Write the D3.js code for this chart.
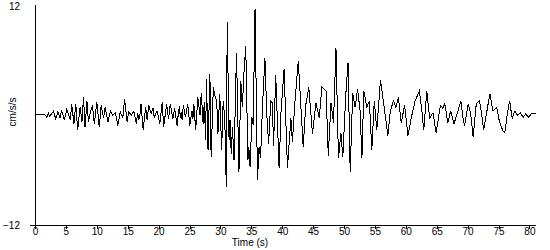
<!DOCTYPE html>
<html>
<head>
<meta charset="utf-8">
<script src="https://cdn.jsdelivr.net/npm/d3@7"></script>
<style>
    body { margin: 0; background: #fff; }
    text { font-family: Arial, 'Liberation Sans', sans-serif; font-size: 10px; fill: #000; }
    .axis path, .axis line { stroke: #000; shape-rendering: crispEdges; }
</style>
</head>
<body>
<svg width="550" height="250"></svg>
<script>
// turning points of the record (time in s, accel in cm/s/s)
var times = [
    0, 1.6, 1.9, 2.16, 2.4, 3.0, 3.35, 3.7, 4.05, 4.3, 4.75, 5.15, 5.7, 5.95, 6.3, 6.6, 6.9, 7.3, 7.6, 7.85,
    8.1, 8.4, 8.65, 8.9, 9.3, 9.6, 10.0, 10.4, 10.7, 11.1, 11.35, 11.8, 12.2, 12.55, 13.0, 13.4, 13.8, 14.2, 14.5, 14.9,
    15.15, 15.6, 16.0, 16.2, 16.4, 16.6, 16.8, 17.0, 17.15, 17.5, 17.9, 18.15, 18.4, 18.8, 19.1, 19.3, 19.5, 19.75, 20.2, 20.6,
    20.8, 21.3, 21.6, 21.9, 22.3, 22.6, 23.0, 23.2, 23.4, 23.5, 23.65, 23.8, 24.0, 24.35, 24.7, 25.05, 25.4, 25.55, 25.7, 26.0,
    26.35, 26.7, 26.9, 27.2, 27.4, 27.6, 27.75, 28.0,
    28.3, 28.5, 28.85, 29.1, 29.4, 29.6, 29.9, 30.2, 30.45, 30.7, 30.95, 31.1, 31.4, 31.55, 31.75, 31.95, 32.2, 32.4, 32.6, 33.0,
    33.3, 33.55, 33.8, 34.1, 34.45, 34.6, 34.8, 35.1, 35.3, 35.6, 36.0, 36.25, 36.5, 36.8, 37.2, 37.5, 37.8, 38.15, 38.4, 38.6,
    38.95, 39.5, 39.8, 40.3, 40.85, 41.4, 41.65, 42.05, 42.6, 43.4, 43.8, 44.3, 44.9, 45.45, 46.0, 46.4, 47.1, 47.45, 47.9, 48.3,
    48.7, 49.1, 49.5, 49.8, 50.3, 50.65, 51.0, 51.4, 51.8, 52.2, 52.6, 52.9, 53.2, 53.7, 54.1, 54.5, 54.9, 55.3, 55.9, 56.5,
    57.1, 57.5, 58.0, 58.4, 58.8, 59.25, 59.8, 60.35, 60.9, 61.5, 62.2, 62.6, 62.9, 63.4, 63.85, 64.4, 64.9, 65.6, 66.0, 66.3,
    66.8, 67.25, 67.8, 68.45, 68.9, 69.3, 69.5, 70.1, 70.5, 70.9, 71.4, 71.9, 72.2, 72.6, 73.05, 73.6, 74.1, 74.7, 75.1, 75.65,
    76.0, 76.5, 76.8, 77.2, 77.65, 78.1, 78.5, 79.0, 79.4, 79.8, 80.35, 81.0
];
var accel = [
    0.1, 0.1, -0.2, 0.25, -0.1, 0.5, -0.4, 0.4, -0.3, 0.6, -0.5, 0.7, -0.5, 1.2, -0.9, 1.3, -1.6, 0.9, -0.7, 2.0,
    -1.3, 1.6, -0.7, 0.2, 1.1, -0.9, 1.5, -1.3, 1.1, -0.3, 0.9, -0.7, 0.5, 0.0, 0.3, -1.1, 0.4, -0.3, 1.8, -0.7,
    0.4, 0.0, 0.5, -0.2, -0.9, 0.3, -0.5, 0.2, 1.3, -1.6, 0.9, -0.5, 1.1, 0.2, 0.8, -0.3, 0.2, 0.5, -0.9, 1.5,
    -1.3, 1.2, -0.4, 1.3, -0.4, 0.8, -1.1, 0.3, 1.0, -0.3, 0.4, -0.5, 1.1, -0.2, 1.3, -1.1, 0.5, -0.4, 1.3, -1.6,
    2.0, 0.0, 2.5, -0.9, 1.5, -2.7, 4.0, -3.8,
    4.6, -4.6, 3.1, 2.2, 1.6, -2.0, 2.4, -3.8, 1.6, -0.2, -7.8, 10.2, -2.7, -0.5, -4.2, -1.3, -4.9, 0.9, 6.9, -6.2,
    3.8, 0.9, 4.6, 7.6, -4.9, -3.5, -5.6, -0.2, -1.0, 11.7, -7.1, -3.5, -4.6, 0.9, 6.3, 0.2, -3.1, 1.6, 1.4, -3.3,
    4.4, -5.8, 0.3, 5.1, -5.8, -0.3, -2.9, 1.4, 6.0, -3.5, 1.1, 3.1, -2.0, 1.4, -0.3, 3.1, 2.7, -4.4, 1.4, -0.8,
    7.4, -4.7, -1.9, -4.6, 2.4, 5.8, -6.2, 2.5, 0.9, 2.9, 0.5, -4.7, 2.7, 0.9, 1.6, -3.8, 1.6, -1.6, 3.9, 0.9,
    -2.2, 0.5, 1.6, 0.9, 2.0, -0.8, 1.1, -2.2, -0.2, 1.6, 2.7, 0.5, -1.6, 2.7, -0.3, 0.3, -1.9, 1.1, 0.8, 1.3,
    -0.8, 0.5, -0.9, 0.5, 1.6, -0.5, -1.1, 1.3, 0.2, -2.4, 1.3, 1.6, 0.5, -1.6, 0.2, 2.4, 0.5, 0.9, -0.5, -1.6,
    -1.9, 0.5, 1.6, -0.3, 0.5, 0.0, 0.3, -0.2, 0.2, -0.2, 0.2, 0.2
];
var xTicks = [0, 5, 10, 15, 20, 25, 30, 35, 40, 45, 50, 55, 60, 65, 70, 75, 80];
var yTicks = [-12, 12];

var svg = d3.select('svg');

var xScale = d3.scaleLinear().domain([0, 81]).range([35, 535.6]);
var yScale = d3.scaleLinear().domain([-12, 12]).range([225, 6]);

// axes
svg.append('g')
    .attr('class', 'axis')
    .attr('transform', 'translate(0,225)')
    .call(d3.axisBottom(xScale).tickValues(xTicks).tickSize(4).tickSizeOuter(0).tickPadding(-1))
    .call(function(g) { g.select('.domain').attr('d', 'M30,0.5H536'); })
    .selectAll('text').style('font-size', '10px').style('font-family', 'Arial, Liberation Sans, sans-serif');

svg.append('g')
    .attr('class', 'axis')
    .attr('transform', 'translate(35,0)')
    .call(d3.axisLeft(yScale).tickValues(yTicks).tickSize(0).tickPadding(15).tickFormat(d3.format('d')))
    .call(function(g) { g.select('.domain').attr('d', 'M0.5,5V225'); })
    .selectAll('text').style('font-size', '10px').style('font-family', 'Arial, Liberation Sans, sans-serif');

// axis titles
svg.append('text')
    .attr('x', 250)
    .attr('y', 246)
    .attr('text-anchor', 'middle')
    .text('Time (s)');

svg.append('text')
    .attr('transform', 'translate(16,112) rotate(-90)')
    .attr('text-anchor', 'middle')
    .text('cm/s/s');

// the trace
var line = d3.line()
    .x(function(d, i) { return xScale(times[i]); })
    .y(function(d) { return yScale(d); });

svg.append('path')
    .datum(accel)
    .attr('d', line)
    .attr('fill', 'none')
    .attr('stroke', '#000')
    .attr('stroke-width', 1)
    .attr('shape-rendering', 'crispEdges');
</script>
</body>
</html>
